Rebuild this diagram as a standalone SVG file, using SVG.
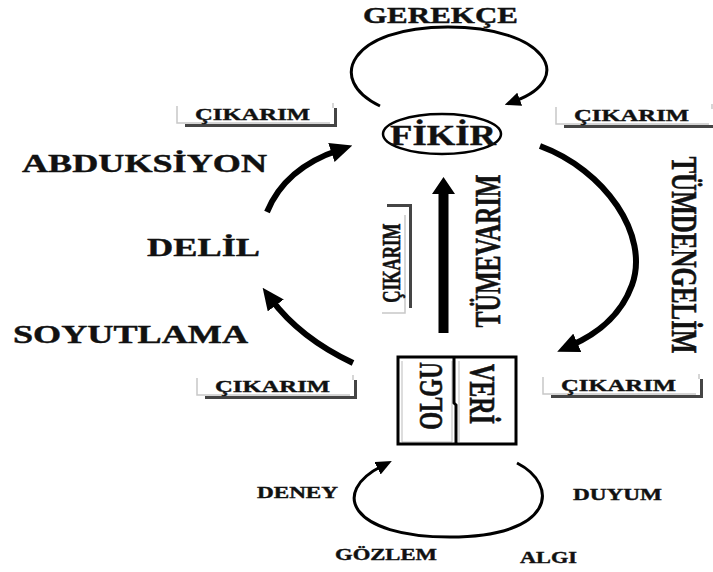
<svg xmlns="http://www.w3.org/2000/svg" xmlns:xlink="http://www.w3.org/1999/xlink" width="713" height="572" viewBox="0 0 713 572">
  <style>
    .t { font-family: "Liberation Serif", "Times New Roman", serif; font-weight: bold; fill: #111; stroke: #111; stroke-width: 0.4; }
    .thick { fill: none; stroke: #000; stroke-width: 6; stroke-linecap: butt; }
    .thin { fill: none; stroke: #000; stroke-width: 3; }
    .light { stroke: #c8c8c8; stroke-width: 1.5; fill: none; }
    .shadow { fill: #454545; }
  </style>
  <defs>
    <marker id="headBig" markerUnits="userSpaceOnUse" markerWidth="22" markerHeight="20" refX="8" refY="10" orient="auto">
      <path d="M0,0 L22,10 L0,20 z" fill="#000"/>
    </marker>
    <marker id="headSmall" markerUnits="userSpaceOnUse" markerWidth="16" markerHeight="14" refX="5" refY="7" orient="auto">
      <path d="M0,0 L16,7 L0,14 z" fill="#000"/>
    </marker>
    <!-- label frame: light left/bottom edges plus a dark drop shadow -->
    <g id="frame">
      <path class="light" d="M0,0 V17 H153"/>
      <path class="light" d="M156,-3 V2"/>
      <rect class="shadow" x="8" y="18" width="152" height="3"/>
      <rect class="shadow" x="157" y="2" width="3" height="19"/>
    </g>
  </defs>

  <!-- connectors -->
  <g id="connectors">
    <path class="thin" d="M380,106 C325,80 350,27 448,27 C545,27 577,78 515,101" marker-end="url(#headSmall)"/>
    <path class="thick" d="M267,212 Q285,168 339,150" marker-end="url(#headBig)"/>
    <path class="thick" d="M353,363 Q300,338 271,299" marker-end="url(#headBig)"/>
    <path class="thick" d="M540,146 C605,170 650,235 632,285 C620,318 595,335 570,346" marker-end="url(#headBig)"/>
    <path d="M438.5,333 V194 H432 L443.5,177 L455,194 H448.5 V333 Z" fill="#000"/>
    <path class="thin" d="M517,463 C560,485 555,537 450,537 C350,537 330,492 382,466" marker-end="url(#headSmall)"/>
  </g>

  <!-- top label -->
  <g id="gerekce">
    <text class="t" x="363" y="23" font-size="24" textLength="155" lengthAdjust="spacingAndGlyphs">GEREKÇE</text>
  </g>

  <!-- idea node -->
  <g id="fikir">
    <ellipse cx="442" cy="134" rx="59" ry="20" fill="none" stroke="#000" stroke-width="2.5"/>
    <text class="t" x="390" y="145" font-size="29" textLength="106" lengthAdjust="spacingAndGlyphs">FİKİR</text>
  </g>

  <!-- inference labels -->
  <g id="cikarim-top-left">
    <use xlink:href="#frame" href="#frame" transform="translate(177,106)"/>
    <text class="t" x="195" y="120" font-size="17.5" textLength="115" lengthAdjust="spacingAndGlyphs">ÇIKARIM</text>
  </g>
  <g id="cikarim-top-right">
    <use xlink:href="#frame" href="#frame" transform="translate(556,107)"/>
    <text class="t" x="574" y="121" font-size="17.5" textLength="115" lengthAdjust="spacingAndGlyphs">ÇIKARIM</text>
  </g>
  <g id="cikarim-bottom-left">
    <use xlink:href="#frame" href="#frame" transform="translate(197,378)"/>
    <text class="t" x="215" y="392" font-size="17.5" textLength="115" lengthAdjust="spacingAndGlyphs">ÇIKARIM</text>
  </g>
  <g id="cikarim-bottom-right">
    <use xlink:href="#frame" href="#frame" transform="translate(543,377)"/>
    <text class="t" x="561" y="391" font-size="17.5" textLength="115" lengthAdjust="spacingAndGlyphs">ÇIKARIM</text>
  </g>
  <g id="cikarim-middle">
    <path class="light" d="M382,313 H405 V215"/>
    <rect class="shadow" x="387" y="204" width="25" height="3"/>
    <rect class="shadow" x="409" y="204" width="3" height="104"/>
    <text class="t" font-size="17" text-anchor="middle" transform="translate(400,263) scale(1.45,1) rotate(-90)">ÇIKARIM</text>
  </g>

  <!-- left side labels -->
  <g id="abduksiyon">
    <text class="t" x="22" y="172" font-size="25" textLength="245" lengthAdjust="spacingAndGlyphs">ABDUKSİYON</text>
  </g>
  <g id="delil">
    <text class="t" x="147" y="256" font-size="25" textLength="113" lengthAdjust="spacingAndGlyphs">DELİL</text>
  </g>
  <g id="soyutlama">
    <text class="t" x="13" y="343" font-size="25" textLength="235" lengthAdjust="spacingAndGlyphs">SOYUTLAMA</text>
  </g>

  <!-- vertical method labels -->
  <g id="tumevarim">
    <text class="t" font-size="24" text-anchor="middle" transform="translate(500,251) scale(1.45,1) rotate(-90)">TÜMEVARIM</text>
  </g>
  <g id="tumdengelim">
    <text class="t" font-size="25" text-anchor="middle" transform="translate(672,255) scale(1.45,1) rotate(90)">TÜMDENGELİM</text>
  </g>

  <!-- fact / data node -->
  <g id="olgu-veri">
    <path d="M402,361 V442 H452 V361" fill="none" stroke="#bbb" stroke-width="1"/>
    <path d="M459,361 V442" fill="none" stroke="#bbb" stroke-width="1"/>
    <rect x="398" y="357" width="118" height="87" fill="none" stroke="#000" stroke-width="3"/>
    <path d="M454,357 V403 L456,405 V444" fill="none" stroke="#000" stroke-width="3"/>
    <text class="t" font-size="23" text-anchor="middle" transform="translate(442,396) scale(1.45,1) rotate(-90)">OLGU</text>
    <text class="t" font-size="24" text-anchor="middle" transform="translate(470,394) scale(1.45,1) rotate(90)">VERİ</text>
  </g>

  <!-- observation cycle labels -->
  <g id="deney">
    <text class="t" x="257" y="498" font-size="16" textLength="81" lengthAdjust="spacingAndGlyphs">DENEY</text>
  </g>
  <g id="duyum">
    <text class="t" x="573" y="500" font-size="16" textLength="89" lengthAdjust="spacingAndGlyphs">DUYUM</text>
  </g>
  <g id="gozlem">
    <text class="t" x="335" y="560" font-size="16" textLength="102" lengthAdjust="spacingAndGlyphs">GÖZLEM</text>
  </g>
  <g id="algi">
    <text class="t" x="520" y="563" font-size="16" textLength="57" lengthAdjust="spacingAndGlyphs">ALGI</text>
  </g>
</svg>
